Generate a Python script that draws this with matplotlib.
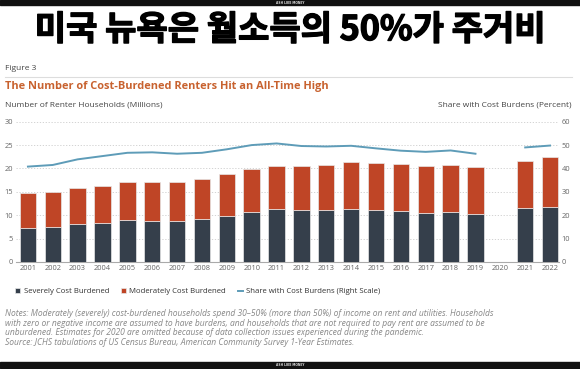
import matplotlib
matplotlib.use("Agg")
import matplotlib.pyplot as plt
import matplotlib.patheffects as pe
import numpy as np

years = ["2001", "2002", "2003", "2004", "2005", "2006", "2007", "2008", "2009", "2010", "2011",
         "2012", "2013", "2014", "2015", "2016", "2017", "2018", "2019", "2020", "2021", "2022"]
severe = [7.2, 7.55, 8.05, 8.4, 9.0, 8.85, 8.7, 9.1, 9.9, 10.7, 11.25,
          11.05, 11.05, 11.25, 11.1, 10.9, 10.55, 10.75, 10.3, np.nan, 11.5, 11.85]
total = [14.8, 15.0, 15.75, 16.25, 17.2, 17.1, 17.1, 17.7, 18.8, 19.9, 20.6,
         20.6, 20.8, 21.3, 21.1, 20.9, 20.45, 20.8, 20.4, np.nan, 21.6, 22.4]
share = [40.8, 41.5, 43.9, 45.3, 46.7, 46.9, 46.3, 46.7, 48.2, 50.0, 50.7,
         49.6, 49.4, 49.7, 48.6, 47.6, 47.1, 47.7, 46.3, np.nan, 49.0, 49.8]
left_ticks = [0, 5, 10, 15, 20, 25, 30]
right_ticks = [0, 10, 20, 30, 40, 50, 60]

moderate = [t - s for t, s in zip(total, severe)]

DARK = "#353f4b"
ORANGE = "#bf4526"
LINE = "#5e9cb8"
GRAY = "#666666"
FONT = "Open Sans"

W, H = 580, 369
fig = plt.figure(figsize=(W / 100, H / 100), dpi=100)
fig.patch.set_facecolor("white")

def fx(px):
    return px / W

def fy(py):
    return 1 - py / H

# top and bottom black bands
fig.add_artist(plt.Rectangle((0, fy(5)), 1, 5 / H, transform=fig.transFigure, color="#111111", zorder=0))
fig.add_artist(plt.Rectangle((0, fy(368)), 1, 6 / H, transform=fig.transFigure, color="#111111", zorder=0))
fig.text(0.5, fy(2.6), "ASH LIKE MONEY", fontsize=2.2, color="#dddddd", ha="center", va="center", fontweight="bold")
fig.text(0.5, fy(365), "ASH LIKE MONEY", fontsize=2.2, color="#dddddd", ha="center", va="center", fontweight="bold")

# Korean title
fig.text(0.5, fy(29.5), "미국 뉴욕은 월소득의 50%가 주거비", fontsize=24.5, fontweight="black",
         family=["Noto Sans CJK KR", "DejaVu Sans"], ha="center", va="center", color="black",
         path_effects=[pe.withStroke(linewidth=1.0, foreground="black")])

fig.text(fx(5), fy(68), "Figure 3", fontsize=6, color="#444444", family=FONT, va="center")
fig.add_artist(plt.Line2D([fx(5), fx(572)], [fy(76.5), fy(76.5)], transform=fig.transFigure,
                          color="#dddddd", lw=0.8))
fig.text(fx(5), fy(87), "The Number of Cost-Burdened Renters Hit an All-Time High", fontsize=7.9,
         color="#c8622f", fontweight="bold", family=FONT, va="center")
fig.text(fx(5), fy(105.5), "Number of Renter Households (Millions)", fontsize=6, color="#444444",
         family=FONT, va="center")
fig.text(fx(572), fy(105.5), "Share with Cost Burdens (Percent)", fontsize=6, color="#444444",
         family=FONT, va="center", ha="right")

ax = fig.add_axes([fx(16), fy(262), fx(559 - 16), (262 - 121.7) / H])
x = np.arange(len(years))
ax.bar(x, severe, width=0.66, color=DARK, edgecolor="#e8e8e8", linewidth=0.5, zorder=3,
       label="Severely Cost Burdened")
ax.bar(x, moderate, bottom=severe, width=0.66, color=ORANGE, edgecolor="#e8e8e8", linewidth=0.5,
       zorder=3, label="Moderately Cost Burdened")
ax.set_xlim(-0.48, 21.36)
ax.set_ylim(0, 30)
ax.set_yticks(left_ticks)
ax.set_xticks(x)
ax.set_xticklabels(years)
ax.grid(axis="y", linestyle=(0, (1.5, 2)), color="#cccccc", lw=0.6, zorder=0)
for s in ["top", "right", "left"]:
    ax.spines[s].set_visible(False)
ax.spines["bottom"].set_color("#aaaaaa")
ax.spines["bottom"].set_linewidth(0.8)
ax.tick_params(axis="both", length=0, labelsize=5.4, labelcolor=GRAY, pad=2)
for lab in ax.get_xticklabels() + ax.get_yticklabels():
    lab.set_family(FONT)

ax2 = ax.twinx()
ax2.plot(x, share, color=LINE, lw=1.4, zorder=4, label="Share with Cost Burdens (Right Scale)")
ax2.set_ylim(0, 60)
ax2.set_yticks(right_ticks)
for s in ["top", "right", "left", "bottom"]:
    ax2.spines[s].set_visible(False)
ax2.tick_params(axis="y", length=0, labelsize=5.4, labelcolor=GRAY, pad=2)
for lab in ax2.get_yticklabels():
    lab.set_family(FONT)

h1, l1 = ax.get_legend_handles_labels()
h2, l2 = ax2.get_legend_handles_labels()
fig.legend(h1 + h2, l1 + l2, loc="center left", bbox_to_anchor=(fx(8), fy(291.5)), ncol=3,
           frameon=False, prop={"family": FONT, "size": 5.6}, handlelength=0.7, handleheight=0.7,
           handletextpad=0.4, columnspacing=1.5, labelcolor="#333333")

notes = [
    "Notes: Moderately (severely) cost-burdened households spend 30\u201350% (more than 50%) of income on rent and utilities. Households",
    "with zero or negative income are assumed to have burdens, and households that are not required to pay rent are assumed to be",
    "unburdened. Estimates for 2020 are omitted because of data collection issues experienced during the pandemic.",
    "Source: JCHS tabulations of US Census Bureau, American Community Survey 1-Year Estimates.",
]
for i, line in enumerate(notes):
    fig.text(fx(5), fy(313.5 + i * 9.6), line, fontsize=6.15, style="italic", color="#888888",
             family=FONT, va="center")

fig.savefig("out.png", dpi=100)
